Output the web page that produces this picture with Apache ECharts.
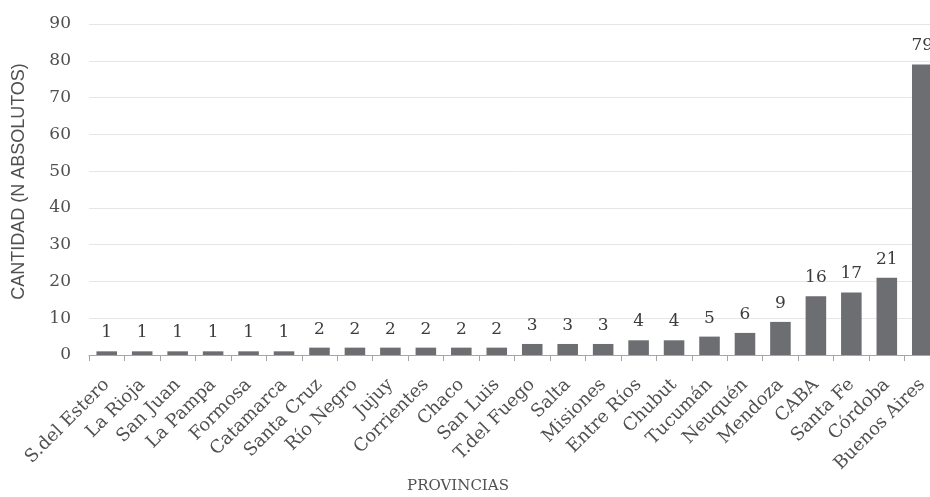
<!DOCTYPE html>
<html>
<head>
<meta charset="utf-8">
<script src="https://cdn.jsdelivr.net/npm/echarts@6/dist/echarts.min.js"></script>
<style>
  html, body { margin: 0; padding: 0; background: #ffffff; overflow: hidden; }
  /* the plot runs slightly past the right edge of the page */
  #chart { width: 945px; height: 497px; }
</style>
</head>
<body>
<div id="chart"></div>
<script>
// Provinces, ordered from fewest to most cases
const provincias = [
  'S.del Estero', 'La Rioja', 'San Juan', 'La Pampa', 'Formosa', 'Catamarca',
  'Santa Cruz', 'Río Negro', 'Jujuy', 'Corrientes', 'Chaco', 'San Luis',
  'T.del Fuego', 'Salta', 'Misiones', 'Entre Ríos', 'Chubut', 'Tucumán',
  'Neuquén', 'Mendoza', 'CABA', 'Santa Fe', 'Córdoba', 'Buenos Aires'
];
// Absolute counts per province
const cantidades = [1, 1, 1, 1, 1, 1, 2, 2, 2, 2, 2, 2, 3, 3, 3, 4, 4, 5, 6, 9, 16, 17, 21, 79];
// Value-axis range
const yMin = 0, yMax = 90, yStep = 10;

const serif = '"DejaVu Serif", "Liberation Serif", serif';
const textGray = '#505050';

const chart = echarts.init(document.getElementById('chart'), null, { renderer: 'canvas' });
chart.setOption({
  animation: false,
  backgroundColor: '#ffffff',
  grid: { left: 89, top: 24, width: 851, height: 331, containLabel: false },
  xAxis: {
    type: 'category',
    data: provincias,
    boundaryGap: true,
    axisLine: { show: true, lineStyle: { color: '#a6a6a6', width: 1 } },
    axisTick: { show: true, alignWithLabel: false, length: 6, lineStyle: { color: '#a6a6a6' } },
    axisLabel: {
      interval: 0,
      rotate: 45,
      margin: 27,
      fontFamily: serif,
      fontSize: 18,
      color: textGray
    }
  },
  yAxis: {
    type: 'value',
    min: yMin,
    max: yMax,
    interval: yStep,
    axisLine: { show: false },
    axisTick: { show: false },
    splitLine: { show: true, lineStyle: { color: '#e6e6e6', width: 1 } },
    axisLabel: { margin: 18, fontFamily: serif, fontSize: 17, color: textGray }
  },
  series: [{
    type: 'bar',
    data: cantidades,
    barWidth: '58%',
    itemStyle: { color: '#6d6e72' },
    label: {
      show: true,
      position: 'top',
      distance: 10,
      fontFamily: serif,
      fontSize: 17,
      color: '#3c3c3c'
    }
  }],
  graphic: [
    {
      type: 'text',
      x: 19, y: 181.5,
      rotation: Math.PI / 2,
      style: {
        text: 'CANTIDAD (N ABSOLUTOS)',
        font: '18px "Liberation Sans", Arial, sans-serif',
        fill: textGray,
        align: 'center',
        verticalAlign: 'middle'
      }
    },
    {
      type: 'text',
      x: 458, y: 486,
      style: {
        text: 'PROVINCIAS',
        font: '15px "DejaVu Serif", serif',
        fill: textGray,
        align: 'center',
        verticalAlign: 'middle'
      }
    }
  ]
});
</script>
</body>
</html>
